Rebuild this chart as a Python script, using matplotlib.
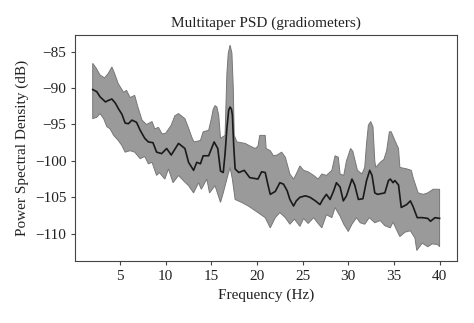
import numpy as np
import matplotlib
matplotlib.use("Agg")
import matplotlib.pyplot as plt

plt.rcParams["font.family"] = ["Liberation Serif", "DejaVu Serif"]

# upper edge of the band (Hz, dB)
freq_upper = [2.0, 2.4, 2.8, 3.3, 3.7, 4.1, 4.4, 4.8, 5.4, 5.7, 6.1, 6.6, 6.9, 7.4, 7.9,
              8.5, 8.8, 9.2, 9.6, 10.0, 10.6, 11.0, 11.4, 12.1, 12.5, 12.9, 13.1, 13.8,
              14.1, 14.7, 15.0, 15.2, 15.4, 15.6, 15.8, 16.0, 16.5, 16.7, 16.85, 17.05, 17.25,
              17.4, 17.5, 17.8, 18.7, 19.3, 19.8, 20.1, 20.3, 20.9, 21.0, 21.45, 21.8,
              22.2, 22.7, 23.1, 23.6, 24.0, 24.3, 24.7, 25.1, 25.6, 26.2, 26.7, 27.1,
              27.6, 28.2, 28.55, 28.9, 29.1, 29.5, 29.8, 30.25, 30.5, 31.0, 31.5, 31.8,
              32.0, 32.2, 32.45, 32.7, 32.9, 33.0, 33.5, 33.9, 34.2, 34.5, 34.7, 35.1,
              35.5, 35.65, 36.4, 36.9, 37.1, 37.65, 38.2, 38.7, 39.3, 40.0]
psd_upper = [-86.6, -87.3, -88.2, -88.6, -88.0, -87.1, -88.0, -89.4, -90.6, -90.3, -91.3,
             -91.0, -92.4, -94.4, -95.0, -94.6, -95.6, -95.4, -96.3, -96.2, -95.1, -93.8,
             -93.5, -94.2, -95.5, -96.9, -97.4, -97.2, -96.0, -95.8, -94.2, -92.9, -92.4,
             -92.6, -93.7, -96.9, -96.5, -88.0, -85.2, -84.1, -85.2, -90.0, -96.5, -97.4,
             -97.6, -98.0, -98.3, -98.0, -96.5, -96.5, -98.3, -98.6, -99.3, -99.2, -98.8,
             -99.5, -101.8, -102.5, -101.8, -100.7, -101.3, -101.5, -102.0, -102.5, -101.8,
             -102.0, -101.3, -99.3, -99.5, -101.8, -102.0, -100.0, -98.3, -98.7, -101.3,
             -101.8, -100.9, -97.6, -95.1, -94.6, -95.3, -100.0, -100.9, -100.2, -99.8,
             -98.6, -96.0, -96.0, -97.2, -98.3, -100.9, -101.1, -101.3, -102.3, -104.4,
             -104.6, -104.4, -103.9, -103.9]

# mean PSD
freq_mean = [2.0, 2.45, 2.8, 3.4, 3.7, 4.1, 4.5, 4.8, 5.2, 5.55, 5.9, 6.3, 6.8, 7.2, 7.7,
             8.1, 8.6, 9.0, 9.55, 10.1, 10.6, 11.0, 11.4, 12.1, 12.5, 13.05, 13.4, 13.8,
             14.1, 14.7, 15.3, 15.7, 16.0, 16.3, 16.5, 16.7, 16.9, 17.05, 17.2, 17.3, 17.45,
             17.6, 18.0, 18.6, 19.2, 20.1, 20.5, 20.9, 21.2, 21.45, 22.0, 22.5, 22.9, 23.3,
             23.6, 24.0, 24.3, 24.7, 25.3, 25.8, 26.4, 26.9, 27.2, 27.6, 28.0, 28.4,
             28.7, 29.1, 29.45, 29.8, 30.4, 30.7, 31.1, 31.6, 32.0, 32.35, 32.6, 32.9,
             33.2, 34.0, 34.4, 34.6, 34.9, 35.1, 35.5, 35.8, 36.4, 36.8, 37.1, 37.55,
             38.1, 38.7, 39.0, 39.5, 40.0]
psd_mean = [-90.2, -90.5, -91.2, -91.9, -91.7, -91.5, -92.1, -92.8, -93.6, -94.8, -94.9,
            -94.4, -94.7, -95.8, -96.9, -97.4, -97.5, -98.8, -99.0, -98.3, -99.2, -98.4,
            -97.6, -98.3, -100.2, -101.3, -100.2, -100.4, -99.3, -99.3, -97.4, -98.3,
            -101.4, -101.6, -99.0, -95.5, -93.0, -92.6, -92.9, -93.7, -98.0, -101.1,
            -101.6, -101.3, -102.3, -102.5, -101.5, -101.6, -103.3, -104.6, -104.2,
            -103.0, -103.2, -104.1, -105.3, -106.2, -105.5, -105.0, -104.8, -105.0,
            -105.5, -106.0, -105.3, -104.6, -105.3, -104.1, -103.0, -103.6, -105.5,
            -104.8, -102.5, -103.3, -105.3, -105.2, -102.7, -101.3, -102.0, -104.4,
            -104.6, -104.4, -102.7, -102.5, -103.0, -102.7, -103.3, -106.4, -106.0,
            -105.5, -106.3, -107.8, -107.8, -107.9, -108.3, -107.8, -107.9]

# lower edge of the band
freq_lower = [2.0, 2.45, 2.8, 3.2, 3.55, 3.9, 4.3, 4.8, 5.2, 5.55, 6.1, 6.6, 7.2, 7.7, 8.1,
              8.5, 9.0, 9.3, 9.9, 10.3, 10.8, 11.4, 12.0, 12.5, 13.05, 13.6, 13.9, 14.5,
              14.8, 15.4, 16.0, 16.3, 16.8, 17.05, 17.3, 17.6, 18.3, 19.05, 20.1, 20.9,
              21.45, 22.0, 22.5, 23.1, 23.6, 24.1, 24.7, 25.1, 25.6, 26.2, 26.7, 27.1,
              27.6, 28.2, 28.55, 29.1, 29.5, 30.0, 30.4, 30.9, 31.3, 31.8, 32.3, 32.9,
              33.5, 34.0, 34.6, 34.9, 35.3, 35.65, 36.2, 36.8, 37.3, 37.5, 38.1, 38.7,
              39.2, 39.8, 40.0]
psd_lower = [-94.2, -94.0, -93.5, -94.2, -95.3, -95.6, -96.5, -97.2, -97.9, -98.8, -98.6,
             -98.8, -99.7, -99.4, -100.4, -100.2, -102.0, -101.6, -102.5, -101.1, -103.0,
             -102.0, -102.8, -103.4, -104.4, -103.0, -103.9, -102.5, -104.4, -103.4,
             -105.7, -104.4, -102.0, -100.9, -102.5, -105.3, -105.7, -106.2, -107.1,
             -107.8, -109.2, -107.8, -107.1, -107.8, -108.7, -108.0, -109.0, -107.9,
             -108.6, -107.8, -108.6, -109.2, -107.4, -107.8, -106.4, -107.6, -108.7,
             -109.7, -108.7, -107.8, -108.5, -108.7, -107.8, -108.5, -108.2, -108.9,
             -109.2, -108.4, -109.5, -110.4, -109.8, -109.6, -110.6, -112.3, -111.3,
             -111.8, -111.4, -111.5, -111.8]

fig = plt.figure(figsize=(4.74, 3.23), dpi=100)
ax = fig.add_axes([0.159, 0.193, 0.805, 0.699])

band_x = np.r_[freq_upper, freq_lower[::-1]]
band_y = np.r_[psd_upper, psd_lower[::-1]]
ax.fill(band_x, band_y, facecolor="#9a9a9a", edgecolor="#777777", lw=0.7)
ax.plot(freq_mean, psd_mean, color="#1a1a1a", lw=1.2)

ax.set_xticks([5, 10, 15, 20, 25, 30, 35, 40])
ax.set_yticks([-85, -90, -95, -100, -105, -110])
ax.tick_params(labelsize=11, color="#444444", length=3, labelcolor="#222222")
for s in ax.spines.values():
    s.set_color("#444444")

ax.set_title("Multitaper PSD (gradiometers)", fontsize=11, color="#222222")
ax.set_xlabel("Frequency (Hz)", fontsize=11, color="#222222")
ax.set_ylabel("Power Spectral Density (dB)", fontsize=11, color="#222222")

fig.savefig("out.png", dpi=100)
